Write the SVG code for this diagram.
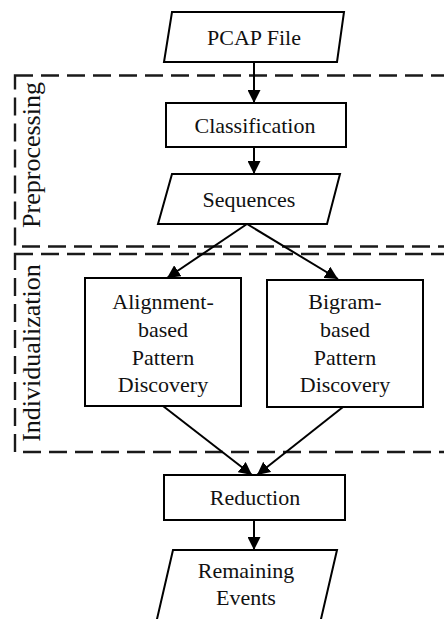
<svg xmlns="http://www.w3.org/2000/svg" width="444" height="619" viewBox="0 0 444 619">
  <style>
    .shape { fill: #ffffff; stroke: #000000; stroke-width: 2; }
    .group { fill: none; stroke: #1a1a1a; stroke-width: 2.4; stroke-dasharray: 18 8; }
    .label { font-family: "Liberation Serif", "Times New Roman", serif; font-size: 22px; fill: #111111; text-anchor: middle; }
    .glabel { font-family: "Liberation Serif", "Times New Roman", serif; font-size: 26px; fill: #111111; text-anchor: middle; }
    .edge { fill: none; stroke: #000000; stroke-width: 2; marker-end: url(#arrow); }
  </style>
  <defs>
    <marker id="arrow" viewBox="0 0 10 10" refX="10" refY="5" markerWidth="6.5" markerHeight="6.5" orient="auto" markerUnits="strokeWidth">
      <path d="M0,0 L10,5 L0,10 Z" fill="#000000"/>
    </marker>
  </defs>
  <rect width="444" height="619" fill="#ffffff"/>

  <!-- dashed stage frames (open to the right edge) -->
  <g id="stage-preprocessing">
    <rect class="group" x="15" y="75.5" width="460" height="171"/>
    <text class="glabel" transform="translate(40,155) rotate(-90)">Preprocessing</text>
  </g>
  <g id="stage-individualization">
    <rect class="group" x="15" y="254" width="460" height="198"/>
    <text class="glabel" transform="translate(40,353) rotate(-90)">Individualization</text>
  </g>

  <!-- connectors -->
  <g id="connectors">
    <line class="edge" x1="254" y1="62" x2="254" y2="103"/>
    <line class="edge" x1="254" y1="147" x2="254" y2="174"/>
    <line class="edge" x1="247" y1="224" x2="167" y2="278"/>
    <line class="edge" x1="247" y1="224" x2="338" y2="279"/>
    <line class="edge" x1="163" y1="406" x2="252" y2="475"/>
    <line class="edge" x1="343" y1="407" x2="257" y2="475"/>
    <line class="edge" x1="254" y1="520" x2="254" y2="550"/>
  </g>

  <!-- nodes -->
  <g id="pcap-file">
    <polygon class="shape" points="172,12 344,12 337,62 164,62"/>
    <text class="label" x="254" y="45">PCAP File</text>
  </g>
  <g id="classification">
    <rect class="shape" x="166" y="103" width="180" height="44"/>
    <text class="label" x="255" y="133">Classification</text>
  </g>
  <g id="sequences">
    <polygon class="shape" points="172,174 340,174 327,224 158,224"/>
    <text class="label" x="249" y="207">Sequences</text>
  </g>
  <g id="alignment-discovery">
    <rect class="shape" x="85" y="278" width="156" height="128"/>
    <text class="label" x="163" y="309">Alignment-</text>
    <text class="label" x="163" y="337">based</text>
    <text class="label" x="163" y="365">Pattern</text>
    <text class="label" x="163" y="392">Discovery</text>
  </g>
  <g id="bigram-discovery">
    <rect class="shape" x="267" y="280" width="156" height="127"/>
    <text class="label" x="345" y="309">Bigram-</text>
    <text class="label" x="345" y="337">based</text>
    <text class="label" x="345" y="365">Pattern</text>
    <text class="label" x="345" y="392">Discovery</text>
  </g>
  <g id="reduction">
    <rect class="shape" x="164" y="475" width="181" height="45"/>
    <text class="label" x="255" y="505">Reduction</text>
  </g>
  <g id="remaining-events">
    <polygon class="shape" points="173,550 337,550 318,632 154,632"/>
    <text class="label" x="246" y="578">Remaining</text>
    <text class="label" x="246" y="605">Events</text>
  </g>
</svg>
